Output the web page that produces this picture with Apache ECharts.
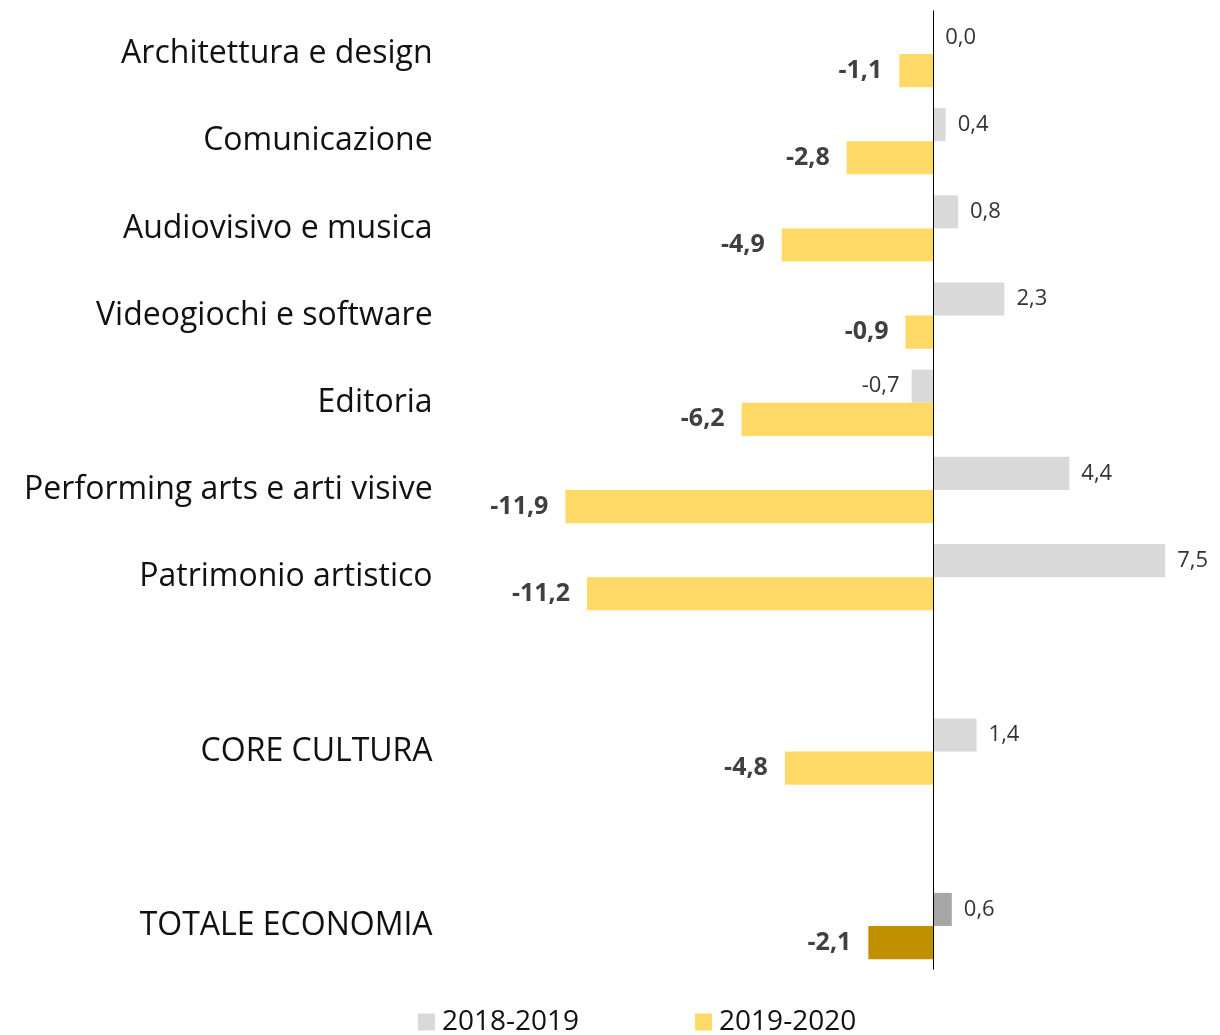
<!DOCTYPE html>
<html>
<head>
<meta charset="utf-8">
<script src="https://cdn.jsdelivr.net/npm/echarts@6/dist/echarts.min.js"></script>
<style>html,body{margin:0;padding:0;background:#fff}#c{width:1220px;height:1035px}</style>
</head>
<body>
<div id="c"></div>
<script>
const categories = ['Architettura e design','Comunicazione','Audiovisivo e musica','Videogiochi e software','Editoria','Performing arts e arti visive','Patrimonio artistico','','CORE CULTURA','','TOTALE ECONOMIA'];
const values2019 = [0.0, 0.4, 0.8, 2.3, -0.7, 4.4, 7.5, null, 1.4, null, 0.6];
const values2020 = [-1.1, -2.8, -4.9, -0.9, -6.2, -11.9, -11.2, null, -4.8, null, -2.1];
const seriesNames = ['2018-2019','2019-2020'];
const highlightCategory = 'TOTALE ECONOMIA';

const FONT = '"Open Sans", sans-serif';
function fmt(v){ return v.toFixed(1).replace('.', ','); }
function build(vals, hiColor){
  return vals.map((v,i)=>{
    if (v === null) return '-';
    const item = {value: v, label: {position: v < 0 ? 'left' : 'right'}};
    if (categories[i] === highlightCategory) item.itemStyle = {color: hiColor};
    return item;
  });
}
const chart = echarts.init(document.getElementById('c'), null, {renderer:'canvas'});
chart.setOption({
  animation: false,
  backgroundColor: '#fff',
  grid: {left: 438.6, right: 39.4, top: 10.4, bottom: 65.4, containLabel: false},
  xAxis: {type:'value', min:-16, max:8, show:false},
  yAxis: {type:'category', data: categories, inverse: true,
    axisLine:{show:false, onZero:false}, axisTick:{show:false},
    axisLabel:{color:'#111', fontSize:32, fontFamily:FONT, margin:6, padding:[8,0,0,0]}},
  legend: {data: seriesNames, left: 413, top: 1003, icon:'rect', itemWidth:17, itemHeight:17, itemGap:116,
    textStyle:{fontSize:28, fontFamily:FONT, color:'#111', padding:[0,0,0,2]}},
  series: [
    {name: seriesNames[0], type:'bar', data: build(values2019,'#A6A6A6'),
     itemStyle:{color:'#D9D9D9'}, barWidth:'38%', barGap:'0%',
     label:{show:true, formatter: p=>fmt(p.value), fontSize:22, fontFamily:FONT, color:'#333', distance:12},
     markLine:{silent:true, symbol:'none', label:{show:false}, lineStyle:{color:'#000', width:1, type:'solid'},
       data:[{xAxis:0}]}},
    {name: seriesNames[1], type:'bar', data: build(values2020,'#BF9000'),
     itemStyle:{color:'#FFD966'}, barWidth:'38%', barGap:'0%',
     label:{show:true, formatter: p=>fmt(p.value), fontSize:25, fontWeight:'bold', fontFamily:FONT, color:'#404040', distance:17}}
  ]
});
</script>
</body>
</html>
